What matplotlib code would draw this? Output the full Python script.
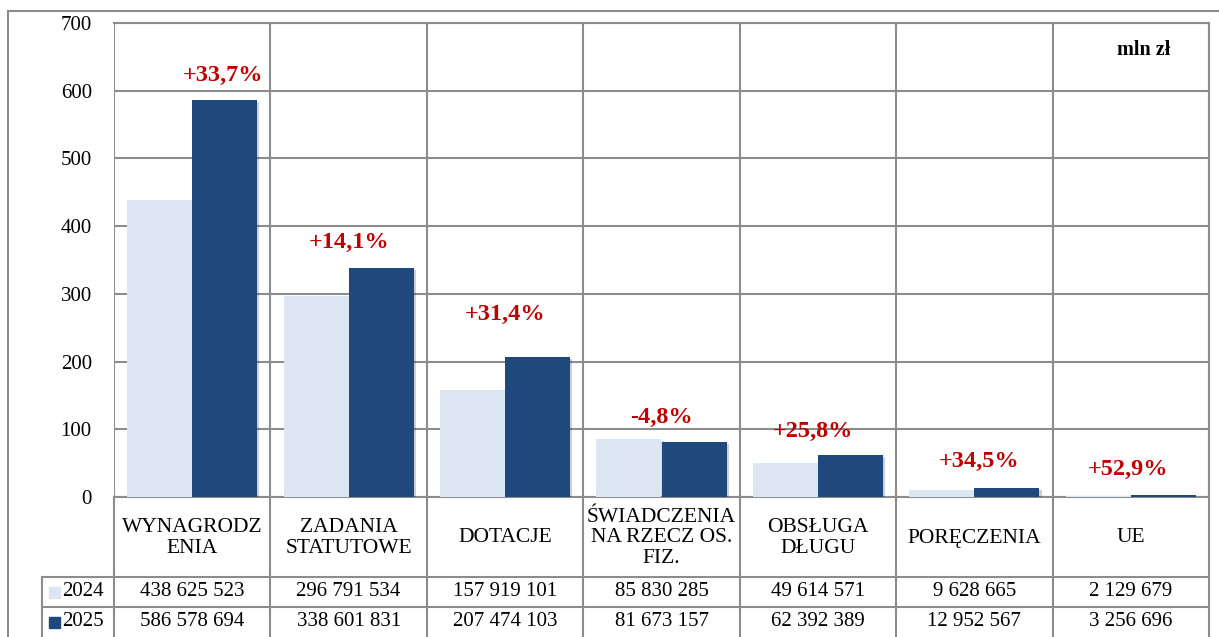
import numpy as np
import matplotlib.pyplot as plt
import matplotlib.patheffects as pe
from matplotlib.lines import Line2D

plt.rcParams['font.family'] = ['Liberation Serif', 'DejaVu Serif']

# dane (mln zł)
kategorie = ['WYNAGRODZ\nENIA', 'ZADANIA\nSTATUTOWE', 'DOTACJE',
             'ŚWIADCZENIA\nNA RZECZ OS.\nFIZ.', 'OBSŁUGA\nDŁUGU',
             'PORĘCZENIA', 'UE']
lata = ['2024', '2025']
wart_2024 = [438625523, 296791534, 157919101, 85830285, 49614571, 9628665, 2129679]
wart_2025 = [586578694, 338601831, 207474103, 81673157, 62392389, 12952567, 3256696]
zmiany = ['+33,7%', '+14,1%', '+31,4%', '-4,8%', '+25,8%', '+34,5%', '+52,9%']

kolory = ['#dce6f2', '#1f497d']
szary = '#8c8c8c'

W, H = 1219, 637
fig = plt.figure(figsize=(W / 100, H / 100), dpi=100)


def fx(px):
    return px / W


def fy(py):
    return 1 - py / H


# obszar wykresu
x0, x1, ytop, ybot = 114, 1209, 23, 497
ax = fig.add_axes([fx(x0), fy(ybot), fx(x1 - x0), (ybot - ytop) / H])

n = len(kategorie)
x = np.arange(n) + 0.5
szer = 0.416
cien = [pe.SimplePatchShadow(offset=(1.5, -1.5), alpha=0.2), pe.Normal()]

a = np.array(wart_2024) / 1e6
b = np.array(wart_2025) / 1e6
ax.bar(x - szer / 2, a, szer, color=kolory[0], path_effects=cien, zorder=3)
ax.bar(x + szer / 2, b, szer, color=kolory[1], path_effects=cien, zorder=3)

ax.set_xlim(0, n)
ax.set_ylim(0, 700)
ax.set_yticks(range(0, 701, 100))
ax.set_xticks(range(0, n + 1))
ax.set_xticklabels([])
ax.grid(True, color=szary, lw=1.5, zorder=0)
ax.tick_params(axis='both', length=0)
ax.tick_params(axis='y', labelsize=15, pad=16)
for s in ax.spines.values():
    s.set_color(szary)
    s.set_linewidth(1.5)
ax.spines['left'].set_visible(False)

# etykiety zmian procentowych
dx = [0.2, 0, 0, 0, -0.03, 0.03, -0.02]
dy = [36, 37, 62, 31, 34, 40, 38]
for i in range(n):
    ax.text(x[i] + dx[i], max(a[i], b[i]) + dy[i], zmiany[i], ha='center',
            va='center', color='#c00000', fontsize=17.5, fontweight='bold')

ax.text(6.5 + 0.08, 660, 'mln zł', ha='center', va='center',
        fontsize=14.5, fontweight='bold')

# tabela danych pod wykresem
granice = [x0 + (x1 - x0) * k / n for k in range(n + 1)]
srodki = [(granice[k] + granice[k + 1]) / 2 for k in range(n)]


def linia(xa, ya, xb, yb):
    fig.add_artist(Line2D([fx(xa), fx(xb)], [fy(ya), fy(yb)],
                          color=szary, lw=1.5))


for g in granice:
    linia(g, ybot, g, H)
linia(42, 577, x1, 577)
linia(42, 607, x1, 607)
linia(42, 577, 42, H)

# ramka zewnętrzna
linia(8, 11, W, 11)
linia(8, 11, 8, H)

for k in range(n):
    fig.text(fx(srodki[k]), fy(538), kategorie[k], ha='center', va='center',
             fontsize=15.5, linespacing=1.08)

for r, (rok, wart) in enumerate(zip(lata, [wart_2024, wart_2025])):
    yc = 592 + 30 * r
    fig.patches.append(plt.Rectangle((fx(49), fy(yc + 6)), fx(11), 11 / H,
                                     color=kolory[r], transform=fig.transFigure))
    fig.text(fx(62), fy(yc), rok, ha='left', va='center', fontsize=15)
    for k in range(n):
        s = f'{wart[k]:,}'.replace(',', ' ')
        fig.text(fx(srodki[k]), fy(yc), s, ha='center', va='center', fontsize=15)

fig.savefig('out.png', dpi=100)
